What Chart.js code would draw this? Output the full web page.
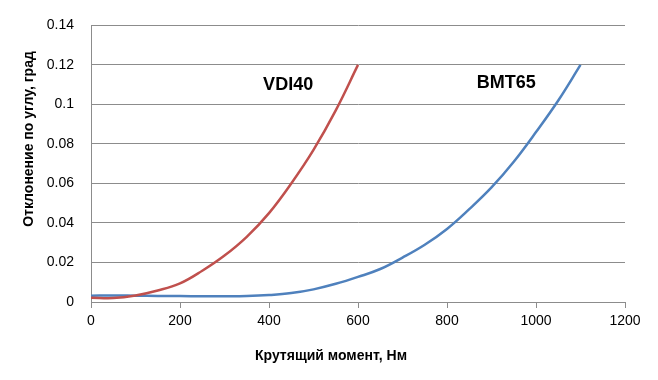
<!DOCTYPE html>
<html>
<head>
<meta charset="utf-8">
<script src="https://cdn.jsdelivr.net/npm/chart.js@4/dist/chart.umd.min.js"></script>
<style>
html,body{margin:0;padding:0;background:#fff;}
#c{display:block;}
</style>
</head>
<body>
<canvas id="c" width="658" height="380"></canvas>
<script>
// Data
const vdiTorque = [0, 50, 100, 150, 200, 250, 300, 350, 400, 450, 500, 550, 600];
const vdiAngle  = [0.0022, 0.002, 0.0033, 0.0058, 0.0094, 0.0158, 0.0235, 0.033, 0.045, 0.060, 0.077, 0.097, 0.12];
const bmtTorque = [0, 50, 100, 150, 200, 250, 300, 350, 400, 450, 500, 550, 600, 650, 700, 750, 800, 850, 900, 950, 1000, 1050, 1100];
const bmtAngle  = [0.0032, 0.0033, 0.0032, 0.0031, 0.003, 0.0029, 0.0029, 0.003, 0.0035, 0.0045, 0.0064, 0.0092, 0.0127, 0.0167, 0.0225, 0.029, 0.037, 0.047, 0.058, 0.071, 0.086, 0.102, 0.12];
const seriesNames = ['VDI40', 'BMT65'];
const labelX = [443, 933];
const labelY = [0.110, 0.111];
const xTicks = ['0', '200', '400', '600', '800', '1000', '1200'];
const yTicks = ['0', '0.02', '0.04', '0.06', '0.08', '0.1', '0.12', '0.14'];
const xTitle = 'Крутящий момент, Нм';
const yTitle = 'Отклонение по углу, град';

const FONT = '"Liberation Sans", Arial, sans-serif';
const RED = '#C0504D';
const BLUE = '#4F81BD';
const GRID = '#8c8c8c';

const toXY = (xs, ys) => xs.map((x, i) => ({x: x, y: ys[i]}));

const overlay = {
  id: 'overlay',
  afterDraw(chart) {
    const ctx = chart.ctx;
    const xs = chart.scales.x, ys = chart.scales.y;
    ctx.save();
    ctx.fillStyle = '#000';
    ctx.textAlign = 'center';
    ctx.textBaseline = 'middle';
    ctx.font = 'bold 18px ' + FONT;
    for (let i = 0; i < seriesNames.length; i++) {
      ctx.fillText(seriesNames[i], xs.getPixelForValue(labelX[i]), ys.getPixelForValue(labelY[i]));
    }
    ctx.font = 'bold 14px ' + FONT;
    ctx.fillText(xTitle, 331, 356);
    ctx.translate(29, 139);
    ctx.rotate(-Math.PI / 2);
    ctx.fillText(yTitle, 0, 0);
    ctx.restore();
  }
};

new Chart(document.getElementById('c'), {
  type: 'scatter',
  data: {
    datasets: [
      {label: seriesNames[0], data: toXY(vdiTorque, vdiAngle), showLine: true, borderColor: RED, backgroundColor: RED, borderWidth: 2.5, pointRadius: 0, tension: 0.4},
      {label: seriesNames[1], data: toXY(bmtTorque, bmtAngle), showLine: true, borderColor: BLUE, backgroundColor: BLUE, borderWidth: 2.5, pointRadius: 0, tension: 0.4}
    ]
  },
  options: {
    responsive: false,
    animation: false,
    events: [],
    layout: {padding: {top: 17, right: 33, left: 0, bottom: 0}},
    plugins: {legend: {display: false}, tooltip: {enabled: false}},
    scales: {
      x: {
        type: 'linear', min: 0, max: 1200,
        afterBuildTicks: (s) => { s.ticks = xTicks.map(v => ({value: parseFloat(v)})); },
        afterFit: (s) => { s.height = 78; },
        grid: {drawOnChartArea: false, drawTicks: true, tickLength: 6, color: GRID, lineWidth: 1},
        border: {color: GRID, width: 1},
        ticks: {color: '#000', font: {family: FONT, size: 14}, padding: 5, maxRotation: 0,
          callback: (v, i) => xTicks[i]}
      },
      y: {
        type: 'linear', min: 0, max: 0.14,
        afterBuildTicks: (s) => { s.ticks = yTicks.map(v => ({value: parseFloat(v)})); },
        afterFit: (s) => { s.width = 91; },
        grid: {color: GRID, lineWidth: 1, drawTicks: false},
        border: {color: GRID, width: 1},
        ticks: {color: '#000', font: {family: FONT, size: 14}, padding: 17,
          callback: (v, i) => yTicks[i]}
      }
    }
  },
  plugins: [overlay]
});
</script>
</body>
</html>
